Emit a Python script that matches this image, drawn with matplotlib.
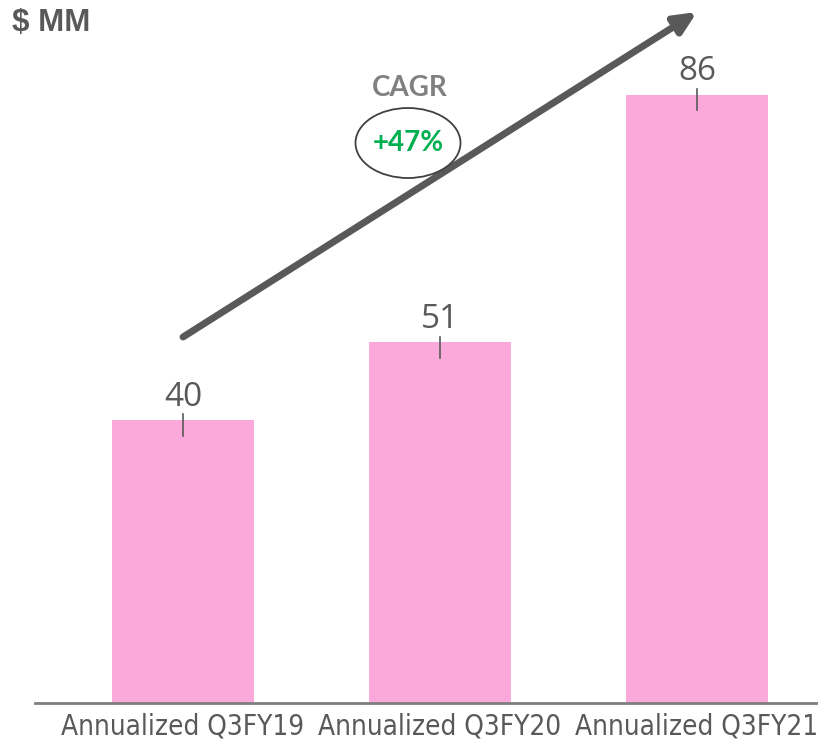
import matplotlib.pyplot as plt
from matplotlib.patches import Ellipse

categories = ["Annualized Q3FY19", "Annualized Q3FY20", "Annualized Q3FY21"]
values = [40, 51, 86]
cagr_label = "+47%"

bar_color = "#faa9da"
grey = "#595959"

fig = plt.figure(figsize=(8.18, 7.43), dpi=100)
ax = fig.add_axes([35 / 818, 40 / 743, 783 / 818, 703 / 743])

x = range(len(categories))
ax.bar(x, values, width=0.55, color=bar_color, zorder=1)
ax.set_xlim(-0.576, 2.471)
ax.set_ylim(0, 99.4)

# value labels with small leader ticks
for i, v in enumerate(values):
    ax.plot([i, i], [v - 2.2, v + 0.8], color=grey, lw=1.2, zorder=2)
    ax.text(i, v + 0.9, str(v), ha="center", va="bottom", fontsize=24,
            color=grey, family=["Open Sans", "DejaVu Sans"])

ax.set_xticks(list(x))
ax.set_xticklabels(categories, fontsize=20, color=grey,
                   family=["DejaVu Sans"], fontstretch="condensed")
ax.tick_params(axis="x", length=0, pad=7)
ax.set_yticks([])
for s in ["top", "right", "left"]:
    ax.spines[s].set_visible(False)
ax.spines["bottom"].set_color("#7f7f7f")
ax.spines["bottom"].set_linewidth(2)

# growth arrow
ax.annotate("", xy=(697 / 818, 1 - 12 / 743), xycoords="figure fraction",
            xytext=(183 / 818, 1 - 337 / 743), textcoords="figure fraction",
            arrowprops=dict(arrowstyle="-|>,head_length=1.3,head_width=0.6", color=grey, lw=5,
                            shrinkA=0, shrinkB=0))

fig.text(410 / 818, 1 - 88 / 743, "CAGR", ha="center", va="center", fontsize=20,
         fontweight="bold", color="#808080", family=["Lato", "DejaVu Sans"])
ell = Ellipse((408 / 818, 1 - 143 / 743), 105 / 818, 70 / 743, transform=fig.transFigure,
              facecolor="white", edgecolor="#404040", lw=1.3, zorder=5)
fig.patches.append(ell)
fig.text(408 / 818, 1 - 143 / 743, cagr_label, ha="center", va="center", fontsize=20,
         fontweight="bold", color="#00b050", family=["Lato", "DejaVu Sans"], zorder=6)

fig.text(12 / 818, 1 - 23 / 743, "$ MM", ha="left", va="center", fontsize=22.5,
         fontweight="bold", color=grey, family=["Liberation Sans", "DejaVu Sans"])

fig.savefig("out.png", dpi=100)
